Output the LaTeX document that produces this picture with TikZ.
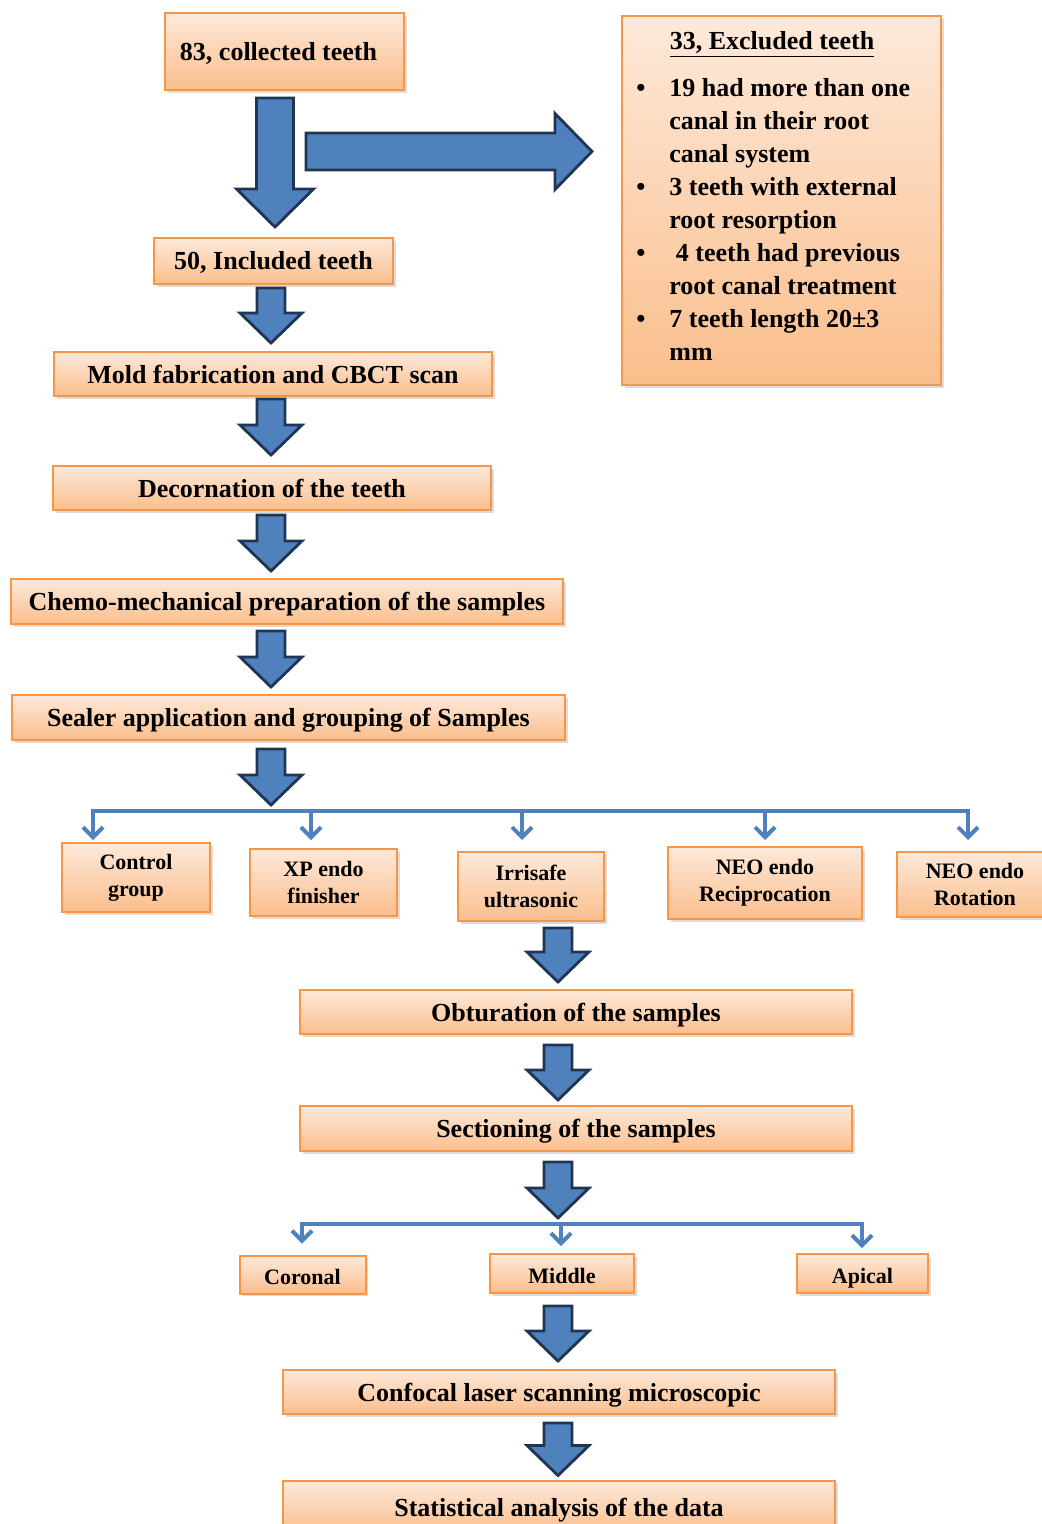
\documentclass[tikz,border=0pt]{standalone}
\usepackage{fontspec}
\setmainfont{Liberation Serif}
\usetikzlibrary{calc,shadows,arrows.meta}

\definecolor{boxline}{HTML}{F79646}
\definecolor{boxtop}{HTML}{FDE9DA}
\definecolor{boxbot}{HTML}{FBBE8C}
\definecolor{arrfill}{HTML}{4F81BD}
\definecolor{arrline}{HTML}{1F3553}

\tikzset{
  box/.style={draw=boxline, line width=1pt, top color=boxtop, bottom color=boxbot,
    inner sep=0pt, align=center, font=\bfseries\fontsize{13}{16}\selectfont,
    drop shadow={shadow xshift=1.3pt, shadow yshift=-1.3pt, opacity=0.28}},
  oneline/.style={text height=9.5pt, text depth=0.5pt},
  grp/.style={box, font=\bfseries\fontsize{11}{13.5}\selectfont},
  grpone/.style={grp, text height=10pt, text depth=0pt},
  blockarrow/.style={fill=arrfill, draw=arrline, line width=1.4pt, line join=miter},
  bus/.style={draw=arrfill, line width=2pt},
  drop/.style={bus, -{Straight Barb[length=5pt,width=10pt]}},
}

% #1 top point, #2 tip point, #3 half shaft, #4 half head, #5 head length
\newcommand\blkdown[5]{\draw[blockarrow] let \p1=#1, \p2=#2 in
  (\x2-#3,\y1) -- (\x2+#3,\y1) -- (\x2+#3,\y2+#5) -- (\x2+#4,\y2+#5) -- (\x2,\y2)
  -- (\x2-#4,\y2+#5) -- (\x2-#3,\y2+#5) -- cycle;}
\newcommand\blkright[5]{\draw[blockarrow] let \p1=#1, \p2=#2 in
  (\x1,\y2+#3) -- (\x1,\y2-#3) -- (\x2-#5,\y2-#3) -- (\x2-#5,\y2-#4) -- (\x2,\y2)
  -- (\x2-#5,\y2+#4) -- (\x2-#5,\y2+#3) -- cycle;}
\newcommand\smalldown[2]{\blkdown{#1}{#2}{7pt}{15.5pt}{15pt}}

\begin{document}
\begin{tikzpicture}[x=0.5pt,y=-0.5pt]
\useasboundingbox (0,0) rectangle (1041,1524);

% boxes
\node[box, oneline, minimum width=119.5pt, minimum height=38.5pt] (c83) at (284.5,51.5) {83, collected teeth\hspace*{6pt}};
\node[box, minimum width=159.5pt, minimum height=184.5pt] (excl) at (781.5,200.5) {};
\node[font=\bfseries\fontsize{13}{16}\selectfont, anchor=base, inner sep=0pt] (excltitle) at (772,50) {\underline{33, Excluded teeth}};
\node[font=\bfseries\fontsize{13}{16.5}\selectfont, anchor=north west, inner sep=0pt] (excllist) at (636,73.5) {%
\begin{tabular}{@{}p{16.5pt}@{}l@{}}
\textbullet & 19 had more than one\\
 & canal in their root\\
 & canal system\\
\textbullet & 3 teeth with external\\
 & root resorption\\
\textbullet & \ 4 teeth had previous\\
 & root canal treatment\\
\textbullet & 7 teeth length 20±3\\
 & mm
\end{tabular}};

\node[box, oneline, minimum width=119.5pt, minimum height=23pt] (b50) at (273.5,261) {50, Included teeth};
\node[box, oneline, minimum width=219pt, minimum height=22pt] (mold) at (273,374) {Mold fabrication and CBCT scan};
\node[box, oneline, minimum width=219pt, minimum height=22pt] (deco) at (272,488) {Decornation of the teeth};
\node[box, oneline, minimum width=276pt, minimum height=22.5pt] (chemo) at (287,601.5) {Chemo-mechanical preparation of the samples};
\node[box, oneline, minimum width=276.5pt, minimum height=22.5pt] (sealer) at (288.5,717.5) {Sealer application and grouping of Samples};

\node[grp, minimum width=74pt, minimum height=34.5pt] (control) at (136,877.5) {Control\\group};
\node[grp, minimum width=73.5pt, minimum height=33.5pt] (xp) at (323.5,882.5) {XP endo\\finisher};
\node[grp, minimum width=73pt, minimum height=34.5pt] (irri) at (531,886.5) {Irrisafe\\ultrasonic};
\node[grp, minimum width=97pt, minimum height=36pt] (neorec) at (765,883) {NEO endo\\Reciprocation};
\node[grp, minimum width=78pt, minimum height=32.5pt] (neorot) at (975,884.5) {NEO endo\\Rotation};

\node[box, oneline, minimum width=276pt, minimum height=22pt] (obt) at (576,1012) {Obturation of the samples};
\node[box, oneline, minimum width=276pt, minimum height=22.5pt] (sect) at (576,1128.5) {Sectioning of the samples};

\node[grpone, minimum width=63pt, minimum height=19pt] (coronal) at (302.5,1274.5) {Coronal};
\node[grpone, minimum width=72pt, minimum height=19.5pt] (middle) at (562,1273.5) {Middle};
\node[grpone, minimum width=65.5pt, minimum height=19.5pt] (apical) at (862.5,1273.5) {Apical};

\node[box, oneline, minimum width=276pt, minimum height=22pt] (conf) at (559,1392) {Confocal laser scanning microscopic};
\node[box, oneline, minimum width=276pt, minimum height=26.5pt] (stat) at (559,1507) {Statistical analysis of the data};

% columns for block arrows
\coordinate (colT) at (275,0);
\coordinate (colA) at (271,0);
\coordinate (colB) at (558,0);
\coordinate (rstart) at (306,151.5);

% big arrows
\blkdown{($(c83.south -| colT)+(0,7)$)}{($(b50.north -| colT)+(0,-10)$)}{9.25pt}{19.25pt}{19pt}
\blkright{(rstart)}{($(rstart -| excl.west)+(-29,0)$)}{9.25pt}{19pt}{18.5pt}

% bus coordinates
\coordinate (d1) at (93,811);
\coordinate (d2) at (311,811);
\coordinate (d3) at (522,811);
\coordinate (d4) at (765,811);
\coordinate (d5) at (968,811);
\coordinate (e1) at (302,1224);
\coordinate (e2) at (561,1224);
\coordinate (e3) at (862,1224);

% small arrows
\smalldown{($(b50.south -| colA)+(0,3)$)}{($(mold.north -| colA)+(0,-8)$)}
\smalldown{($(mold.south -| colA)+(0,2)$)}{($(deco.north -| colA)+(0,-10)$)}
\smalldown{($(deco.south -| colA)+(0,4)$)}{($(chemo.north -| colA)+(0,-7)$)}
\smalldown{($(chemo.south -| colA)+(0,6)$)}{($(sealer.north -| colA)+(0,-7)$)}
\smalldown{($(sealer.south -| colA)+(0,8)$)}{($(d1 -| colA)+(0,-6)$)}
\smalldown{($(irri.south -| colB)+(0,6)$)}{($(obt.north -| colB)+(0,-7)$)}
\smalldown{($(obt.south -| colB)+(0,10)$)}{($(sect.north -| colB)+(0,-5)$)}
\smalldown{($(sect.south -| colB)+(0,10)$)}{($(e1 -| colB)+(0,-6)$)}
\smalldown{($(middle.south -| colB)+(0,12)$)}{($(conf.north -| colB)+(0,-8)$)}
\smalldown{($(conf.south -| colB)+(0,8)$)}{($(stat.north -| colB)+(0,-4)$)}

% branch 1
\draw[bus] (d1) -- (d5);
\draw[drop, shorten >=1pt] (d2) -- (d1) -- (control.north -| d1);
\draw[drop, shorten >=4pt] (d2) -- (xp.north -| d2);
\draw[drop, shorten >=5.5pt] (d3) -- (irri.north -| d3);
\draw[drop, shorten >=3pt] (d4) -- (neorec.north -| d4);
\draw[drop, shorten >=5.5pt] (d4) -- (d5) -- (neorot.north -| d5);

% branch 2
\draw[bus] (e1) -- (e3);
\draw[drop, shorten >=5.5pt] (e2) -- (e1) -- (coronal.north -| e1);
\draw[drop, shorten >=3.5pt] (e2) -- (middle.north -| e2);
\draw[drop, shorten >=2.5pt] (e2) -- (e3) -- (apical.north -| e3);
\end{tikzpicture}
\end{document}
